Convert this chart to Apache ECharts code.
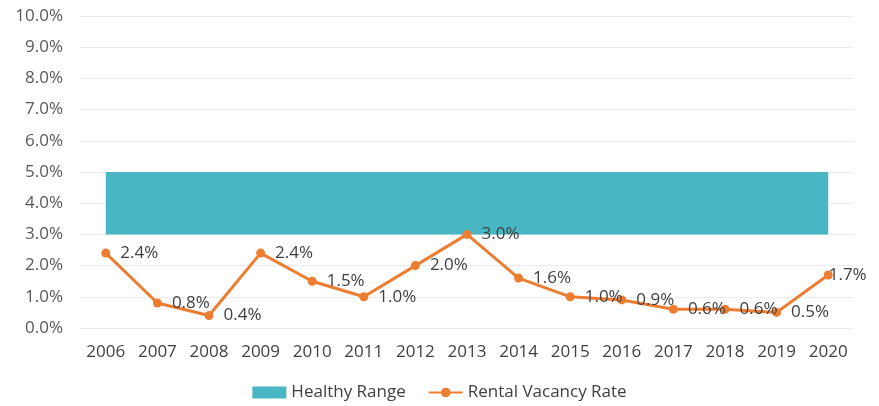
<!DOCTYPE html>
<html><head><meta charset="utf-8">
<script src="https://cdn.jsdelivr.net/npm/echarts@6/dist/echarts.min.js"></script>
<style>html,body{margin:0;padding:0;background:#fff}#c{width:879px;height:406px}</style>
</head><body><div id="c"></div>
<script>
const years = ['2006','2007','2008','2009','2010','2011','2012','2013','2014','2015','2016','2017','2018','2019','2020'];
const vacancyRate = [2.4,0.8,0.4,2.4,1.5,1.0,2.0,3.0,1.6,1.0,0.9,0.6,0.6,0.5,1.7];
const healthyLow = [3,3,3,3,3,3,3,3,3,3,3,3,3,3,3];
const healthyHigh = [5,5,5,5,5,5,5,5,5,5,5,5,5,5,5];
const healthyWidth = healthyHigh.map((h,i)=>h-healthyLow[i]);

const font = 'Open Sans';
const fs = 17;
const lastIdx = vacancyRate.length - 1;
const chart = echarts.init(document.getElementById('c'));
chart.setOption({
  animation:false,
  textStyle:{fontFamily:font},
  grid:{left:80,right:25,top:16,bottom:78,containLabel:false},
  legend:{
    bottom:0,left:'center',itemGap:22,
    textStyle:{fontFamily:font,fontSize:fs,color:'#404040'},
    data:[{name:'Healthy Range',icon:'rect',itemStyle:{color:'#48B6C3'}},{name:'Rental Vacancy Rate'}],
    itemWidth:34,itemHeight:12
  },
  xAxis:{
    type:'category',data:years,boundaryGap:true,
    axisLine:{show:false},axisTick:{show:false},
    axisLabel:{interval:0,fontSize:fs,color:'#404040',margin:16,fontFamily:font}
  },
  yAxis:{
    type:'value',min:0,max:10,interval:1,
    axisLabel:{fontSize:fs,color:'#595959',margin:17,fontFamily:font,formatter:v=>v.toFixed(1)+'%'},
    splitLine:{lineStyle:{color:'#ececec',width:1}},
    axisLine:{show:false},axisTick:{show:false}
  },
  series:[
    {name:'base',type:'line',stack:'h',data:healthyLow,symbol:'none',lineStyle:{opacity:0},silent:true},
    {name:'Healthy Range',type:'line',stack:'h',data:healthyWidth,symbol:'none',
     lineStyle:{opacity:0},areaStyle:{color:'#48B6C3',opacity:1},itemStyle:{color:'#48B6C3'}},
    {name:'Rental Vacancy Rate',type:'line',
     data:vacancyRate.map((v,i)=> i===lastIdx ? {value:v,label:{distance:-4}} : v),
     symbol:'circle',symbolSize:9,
     lineStyle:{color:'#ED7D31',width:3},itemStyle:{color:'#ED7D31'},
     label:{show:true,position:'right',distance:10,fontSize:fs,color:'#404040',fontFamily:font,
       formatter:p=>p.value.toFixed(1)+'%'}}
  ]
});
</script></body></html>
